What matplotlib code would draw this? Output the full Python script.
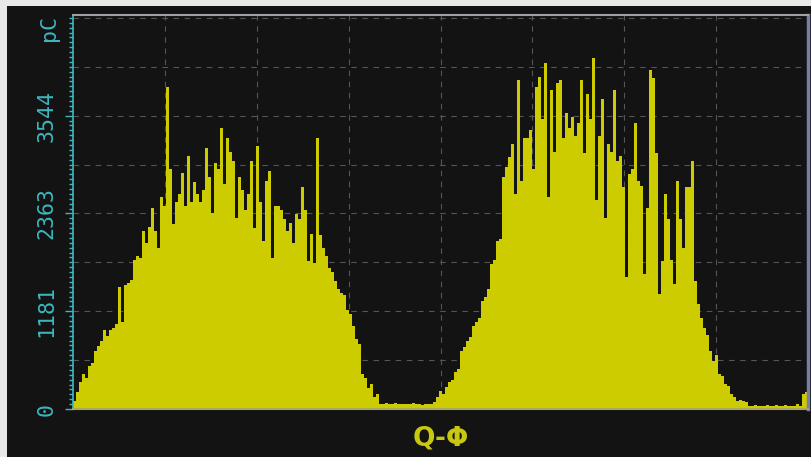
import matplotlib
matplotlib.use("Agg")
import matplotlib.pyplot as plt
from matplotlib.ticker import MultipleLocator, FixedLocator
from matplotlib.patches import Rectangle

# ---- data (charge per phase bin, pC) ----
charge_pc = [
    100, 200, 330, 420, 380, 520, 560, 700, 760, 820,
    950, 880, 960, 980, 1030, 1470, 1050, 1500, 1520, 1560,
    1800, 1850, 1820, 2150, 2000, 2200, 2430, 2150, 1950, 2560,
    2450, 3890, 2900, 2240, 2500, 2600, 2850, 2450, 3060, 2500,
    2740, 2600, 2500, 2650, 3150, 2800, 2370, 2970, 2900, 3400,
    2720, 3280, 3100, 3000, 2310, 2800, 2650, 2400, 2600, 3000,
    2190, 3180, 2500, 2030, 2760, 2880, 1830, 2450, 2450, 2400,
    2300, 2150, 2250, 2000, 2360, 2300, 2680, 2400, 1790, 2120,
    1760, 3270, 2100, 1950, 1850, 1700, 1650, 1550, 1450, 1400,
    1380, 1200, 1150, 1000, 850, 780, 420, 380, 250, 300,
    150, 180, 60, 60, 70, 60, 60, 70, 60, 60,
    60, 55, 60, 70, 60, 55, 50, 60, 55, 60,
    80, 150, 220, 180, 260, 330, 350, 450, 480, 700,
    750, 820, 870, 1000, 1050, 1100, 1300, 1350, 1450, 1750,
    1800, 2030, 2050, 2800, 2920, 3040, 3200, 2600, 3970, 2760,
    3280, 3280, 3370, 2900, 3890, 4010, 3500, 4180, 2560, 3850,
    3100, 3940, 3970, 3280, 3570, 3400, 3530, 3300, 3450, 3970,
    3090, 3800, 3500, 4240, 2520, 3300, 3750, 2310, 3200, 3100,
    3850, 3000, 3060, 2680, 1590, 2840, 2900, 3450, 2760, 2700,
    1630, 2430, 4090, 4000, 3090, 1390, 1790, 2600, 2300, 1800,
    1510, 2760, 2300, 1950, 2680, 2680, 3000, 1550, 1270, 1100,
    980, 900, 700, 580, 650, 420, 400, 300, 280, 180,
    150, 100, 110, 100, 90, 40, 40, 50, 40, 40,
    40, 45, 40, 40, 50, 40, 40, 45, 40, 40,
    40, 60, 40, 180, 200,
]
bins = list(range(len(charge_pc)))
ytick_values = [0, 1181.25, 2362.5, 3543.75]
ytick_labels = ["0", "1181", "2363", "3544"]
y_unit = "pC"
x_label = "Q-Φ"
y_max = 4760

BG = "#131313"
YEL = "#cccc00"
CYAN = "#3cb8c0"

fig = plt.figure(figsize=(8.11, 4.57), dpi=100, facecolor=BG)
# white margins at top and left of the screenshot
fig.patches.append(Rectangle((0, 1 - 6 / 457), 1, 6 / 457, transform=fig.transFigure,
                             facecolor="#e8e8e8", edgecolor="none"))
fig.patches.append(Rectangle((0, 0), 7 / 811, 1, transform=fig.transFigure,
                             facecolor="#e8e8e8", edgecolor="none"))

ax = fig.add_axes([73 / 811, 48 / 457, 735 / 811, 394 / 457])
ax.set_facecolor(BG)

ax.bar(bins, charge_pc, width=1.0, align="edge", color=YEL, linewidth=0,
       antialiased=False, zorder=2)

ax.set_xlim(0, len(charge_pc))
ax.set_ylim(0, y_max)

# grid
n = len(charge_pc)
ax.xaxis.set_major_locator(FixedLocator([n * k / 8 for k in range(1, 8)]))
ax.xaxis.set_tick_params(length=0, labelbottom=False)
ax.yaxis.set_major_locator(FixedLocator(ytick_values))
ax.set_yticklabels(ytick_labels)
ax.yaxis.set_minor_locator(MultipleLocator(1181.25 / 20))
for k in range(1, 9):
    ax.axhline(590.625 * k, color="#555555", lw=0.8, ls=(0, (5, 5)), zorder=1)
ax.grid(axis="x", color="#555555", lw=0.8, ls=(0, (5, 5)), zorder=1)

ax.tick_params(axis="y", which="major", length=6, width=1, color=CYAN,
               labelcolor=CYAN, pad=6, labelsize=15.5)
ax.tick_params(axis="y", which="minor", length=3, width=1, color=CYAN)
for lab in ax.get_yticklabels():
    lab.set_rotation(90)
    lab.set_va("center")
    lab.set_family("DejaVu Sans Mono")

ax.spines["left"].set_color(CYAN)
ax.spines["left"].set_linewidth(1.2)
ax.spines["top"].set_color("#a0a0a8")
ax.spines["top"].set_linewidth(1.5)
ax.spines["right"].set_color("#7c7ca8")
ax.spines["right"].set_linewidth(2.5)
ax.spines["bottom"].set_color("#a8a860")
ax.spines["bottom"].set_linewidth(1.5)

fig.text(49 / 811, 1 - 28 / 457, y_unit, rotation=90, ha="center", va="center",
         color=CYAN, fontsize=15.5, family="DejaVu Sans Mono")

ax.set_xlabel(x_label, color="#c8c810", fontsize=19, fontweight="bold", labelpad=12)

fig.savefig("out.png", dpi=100, facecolor=BG)
